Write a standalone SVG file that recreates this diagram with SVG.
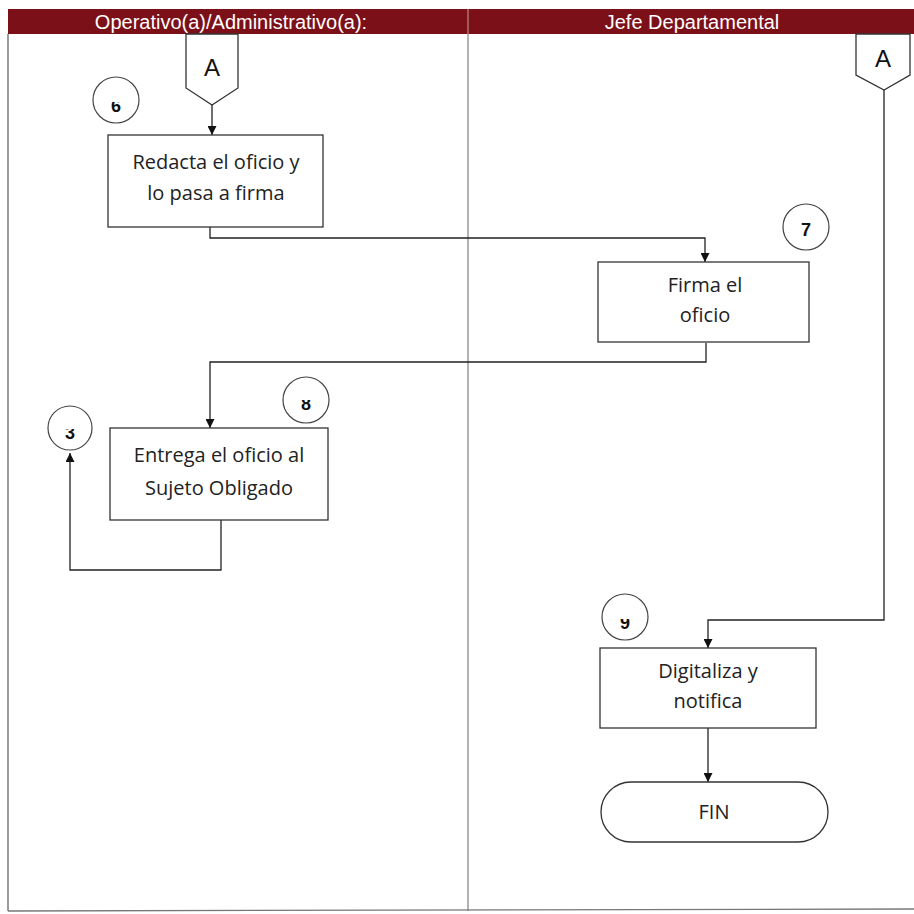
<svg xmlns="http://www.w3.org/2000/svg" width="914" height="914" viewBox="0 0 914 914">
<defs>
<style>
.hdr{font-family:"Liberation Sans",Arial,sans-serif;font-size:20px;fill:#ffffff;text-anchor:middle}
.box{fill:#ffffff;stroke:#333;stroke-width:1.3}
.lbl{font-family:"Open Sans","Liberation Sans",sans-serif;font-size:20px;fill:#222;text-anchor:middle}
.circ{fill:#ffffff;stroke:#444;stroke-width:1.2}
.num{font-family:"Liberation Sans",Arial,sans-serif;font-size:18px;font-weight:bold;fill:#111;text-anchor:middle}
.conn{fill:none;stroke:#222;stroke-width:1.3}
.big{font-family:"Liberation Sans",Arial,sans-serif;font-size:24px;fill:#111;text-anchor:middle}
</style>
<marker id="arr" viewBox="0 0 10 10" refX="10" refY="5" markerWidth="9" markerHeight="9" markerUnits="userSpaceOnUse" orient="auto">
<path d="M0,0 L10,5 L0,10 z" fill="#111"/>
</marker>
<clipPath id="c6"><rect x="96" y="102" width="40" height="12"/></clipPath>
<clipPath id="c7"><rect x="786" y="222" width="40" height="16"/></clipPath>
<clipPath id="c8"><rect x="286" y="400" width="40" height="12"/></clipPath>
<clipPath id="c10"><rect x="50" y="429" width="40" height="12"/></clipPath>
<clipPath id="c9"><rect x="605" y="619" width="40" height="12"/></clipPath>
</defs>
<rect x="0" y="0" width="914" height="914" fill="#ffffff"/>
<g id="frame">
<rect x="8" y="9" width="906" height="25" fill="#7c1019"/>
<line x1="468" y1="9" x2="468" y2="34" stroke="#c9a0a0" stroke-width="1"/>
<text class="hdr" x="231" y="29">Operativo(a)/Administrativo(a):</text>
<text class="hdr" x="692" y="29">Jefe Departamental</text>
<line x1="8" y1="34" x2="8" y2="911" stroke="#666" stroke-width="1.3"/>
<line x1="468" y1="34" x2="468" y2="911" stroke="#666" stroke-width="1"/>
<line x1="8" y1="911" x2="914" y2="909" stroke="#777" stroke-width="1.3"/>
</g>
<g id="connectors">
<line class="conn" x1="212" y1="105" x2="212" y2="135" marker-end="url(#arr)"/>
<polyline class="conn" points="210,227 210,238 705,238 705,262" marker-end="url(#arr)"/>
<polyline class="conn" points="706,343 706,362 210,362 210,428" marker-end="url(#arr)"/>
<polyline class="conn" points="221,520 221,570 70,570 70,453" marker-end="url(#arr)"/>
<polyline class="conn" points="884,90 884,620 708,620 708,648" marker-end="url(#arr)"/>
<line class="conn" x1="708" y1="728" x2="708" y2="782" marker-end="url(#arr)"/>
</g>
<g id="connA1">
<path class="box" d="M186,34 L238,34 L238,88 L212,105 L186,88 Z"/>
<text class="big" x="212" y="76">A</text>
</g>
<g id="connA2">
<path class="box" d="M856,34 L910,34 L910,75 L884,90 L856,75 Z"/>
<text class="big" x="883" y="67">A</text>
</g>
<g id="step6">
<circle class="circ" cx="116" cy="100" r="23"/>
<text class="num" x="116" y="112" clip-path="url(#c6)">6</text>
</g>
<g id="n1">
<rect class="box" x="108" y="135" width="215" height="92"/>
<text class="lbl" x="216" y="169">Redacta el oficio y</text>
<text class="lbl" x="216" y="200">lo pasa a firma</text>
</g>
<g id="step7">
<circle class="circ" cx="806" cy="227" r="23"/>
<text class="num" x="806" y="236" clip-path="url(#c7)">7</text>
</g>
<g id="n2">
<rect class="box" x="598" y="262" width="211" height="80"/>
<text class="lbl" x="705" y="292">Firma el</text>
<text class="lbl" x="705" y="322">oficio</text>
</g>
<g id="step8">
<circle class="circ" cx="306" cy="400" r="23"/>
<text class="num" x="306" y="410" clip-path="url(#c8)">8</text>
</g>
<g id="step10">
<circle class="circ" cx="70" cy="428" r="22"/>
<text class="num" x="70" y="439" clip-path="url(#c10)">3</text>
</g>
<g id="n3">
<rect class="box" x="110" y="428" width="218" height="92"/>
<text class="lbl" x="219" y="462">Entrega el oficio al</text>
<text class="lbl" x="219" y="495">Sujeto Obligado</text>
</g>
<g id="step9">
<circle class="circ" cx="625" cy="617" r="23"/>
<text class="num" x="625" y="629" clip-path="url(#c9)">9</text>
</g>
<g id="n4">
<rect class="box" x="600" y="648" width="216" height="80"/>
<text class="lbl" x="708" y="678">Digitaliza y</text>
<text class="lbl" x="708" y="708">notifica</text>
</g>
<g id="fin">
<rect class="box" x="601" y="782" width="227" height="60" rx="30" ry="30"/>
<text class="lbl" x="714" y="819">FIN</text>
</g>
</svg>
